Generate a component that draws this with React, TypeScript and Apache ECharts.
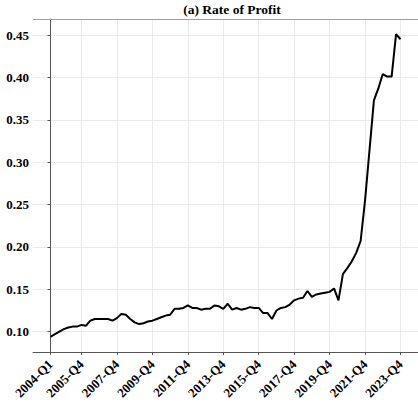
import React, { useEffect, useRef } from "react";
import * as echarts from "echarts";

const categories: string[] = [
  "2004-Q1", "2004-Q2", "2004-Q3", "2004-Q4",
  "2005-Q1", "2005-Q2", "2005-Q3", "2005-Q4",
  "2006-Q1", "2006-Q2", "2006-Q3", "2006-Q4",
  "2007-Q1", "2007-Q2", "2007-Q3", "2007-Q4",
  "2008-Q1", "2008-Q2", "2008-Q3", "2008-Q4",
  "2009-Q1", "2009-Q2", "2009-Q3", "2009-Q4",
  "2010-Q1", "2010-Q2", "2010-Q3", "2010-Q4",
  "2011-Q1", "2011-Q2", "2011-Q3", "2011-Q4",
  "2012-Q1", "2012-Q2", "2012-Q3", "2012-Q4",
  "2013-Q1", "2013-Q2", "2013-Q3", "2013-Q4",
  "2014-Q1", "2014-Q2", "2014-Q3", "2014-Q4",
  "2015-Q1", "2015-Q2", "2015-Q3", "2015-Q4",
  "2016-Q1", "2016-Q2", "2016-Q3", "2016-Q4",
  "2017-Q1", "2017-Q2", "2017-Q3", "2017-Q4",
  "2018-Q1", "2018-Q2", "2018-Q3", "2018-Q4",
  "2019-Q1", "2019-Q2", "2019-Q3", "2019-Q4",
  "2020-Q1", "2020-Q2", "2020-Q3", "2020-Q4",
  "2021-Q1", "2021-Q2", "2021-Q3", "2021-Q4",
  "2022-Q1", "2022-Q2", "2022-Q3", "2022-Q4",
  "2023-Q1", "2023-Q2", "2023-Q3", "2023-Q4",
];

const rateOfProfit: number[] = [
  0.094, 0.097, 0.100, 0.103, 0.105, 0.106, 0.106, 0.108,
  0.107, 0.113, 0.115, 0.115, 0.115, 0.115, 0.113, 0.116,
  0.121, 0.120, 0.115, 0.111, 0.109, 0.110, 0.112, 0.113,
  0.115, 0.117, 0.119, 0.120, 0.127, 0.127, 0.128, 0.131,
  0.128, 0.128, 0.126, 0.127, 0.127, 0.131, 0.130, 0.127,
  0.133, 0.126, 0.128, 0.126, 0.127, 0.129, 0.128, 0.128,
  0.122, 0.122, 0.115, 0.125, 0.128, 0.129, 0.132, 0.137,
  0.139, 0.140, 0.148, 0.141, 0.144, 0.145, 0.146, 0.147,
  0.151, 0.137, 0.168, 0.175, 0.183, 0.193, 0.207, 0.255,
  0.314, 0.373, 0.387, 0.404, 0.401, 0.401, 0.451, 0.445,
];

const xTickLabels: string[] = [
  "2004-Q1", "2005-Q4", "2007-Q4", "2009-Q4", "2011-Q4", "2013-Q4",
  "2015-Q4", "2017-Q4", "2019-Q4", "2021-Q4", "2023-Q4",
];

const yTicks: number[] = [0.1, 0.15, 0.2, 0.25, 0.3, 0.35, 0.4, 0.45];

const title = "(a) Rate of Profit";

export default function App() {
  const ref = useRef<HTMLDivElement>(null);

  useEffect(() => {
    if (!ref.current) return;
    const chart = echarts.init(ref.current, null, { renderer: "svg" });
    const xTickIdx = xTickLabels.map((l) => categories.indexOf(l));
    const n = categories.length - 1;
    const padX = n * 0.05;
    const fontFamily = "Liberation Serif";

    chart.setOption({
      animation: false,
      backgroundColor: "#ffffff",
      textStyle: { fontFamily },
      title: {
        text: title,
        left: 227,
        top: 0,
        padding: [2, 5, 2, 5],
        textAlign: "center",
        textStyle: {
          fontFamily,
          fontSize: 13.5,
          fontWeight: "bold",
          color: "#000000",
        },
      },
      grid: { left: 33, top: 19, width: 389, height: 333, containLabel: false },
      xAxis: {
        type: "value",
        min: -padX,
        max: n + padX,
        axisLine: { show: true, onZero: false, lineStyle: { color: "#555555", width: 1 } },
        axisTick: {
          show: true,
          length: 3,
          customValues: xTickIdx,
          lineStyle: { color: "#555555" },
        },
        axisLabel: {
          customValues: xTickIdx,
          rotate: 45,
          margin: 10,
          fontFamily,
          fontSize: 13,
          fontWeight: "bold",
          color: "#000000",
          formatter: (v: number) => categories[Math.round(v)] ?? "",
        },
        splitLine: { show: true, lineStyle: { color: "#ebebeb", width: 1 } },
      },
      yAxis: {
        type: "value",
        min: 0.07605,
        max: 0.4689,
        axisLine: { show: true, lineStyle: { color: "#555555", width: 1 } },
        axisTick: {
          show: true,
          length: 3,
          customValues: yTicks,
          lineStyle: { color: "#555555" },
        },
        axisLabel: {
          customValues: yTicks,
          margin: 4,
          fontFamily,
          fontSize: 13,
          fontWeight: "bold",
          color: "#000000",
          formatter: (v: number) => v.toFixed(2),
        },
        splitLine: { show: true, lineStyle: { color: "#ebebeb", width: 1 } },
      },
      graphic: [
        {
          type: "line",
          shape: { x1: 33, y1: 19.5, x2: 418, y2: 19.5 },
          style: { stroke: "#a0a0a0", lineWidth: 1 },
          z: 10,
        },
      ],
      series: [
        {
          type: "line",
          data: rateOfProfit.map((v, i) => [i, v]),
          showSymbol: false,
          symbol: "none",
          smooth: false,
          lineStyle: { color: "#000000", width: 2 },
        },
      ],
    });

    return () => chart.dispose();
  }, []);

  return (
    <div
      ref={ref}
      style={{ position: "absolute", left: 0, top: 0, width: 418, height: 403 }}
    />
  );
}
